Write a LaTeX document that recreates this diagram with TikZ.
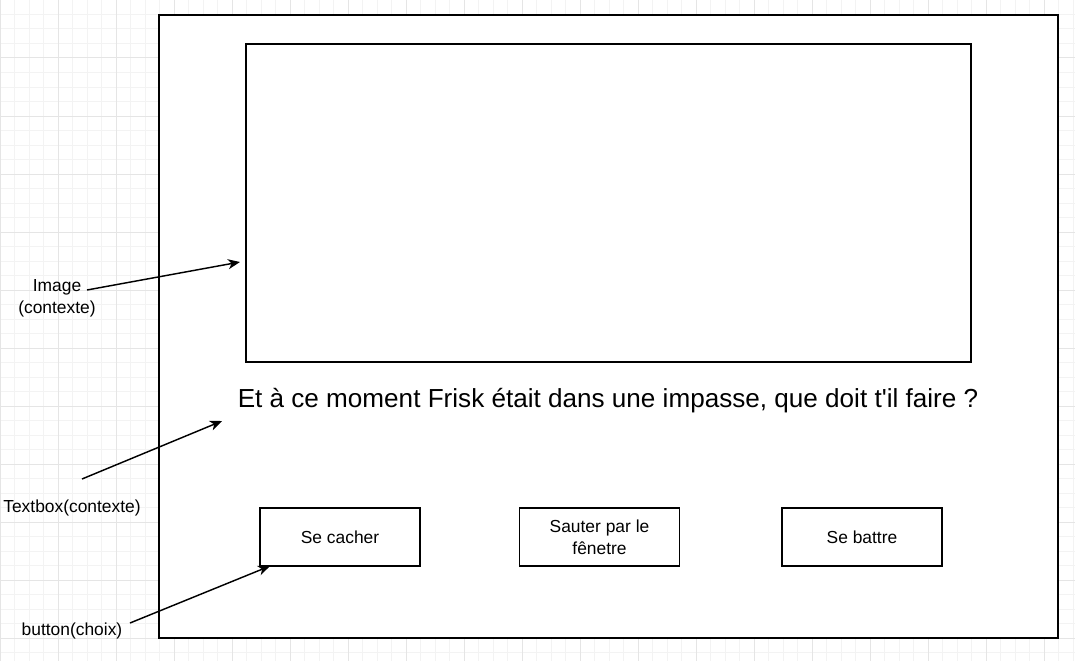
\documentclass[tikz,border=0pt]{standalone}
\usepackage{fontspec}
\setmainfont{Liberation Sans}
\usetikzlibrary{arrows.meta}
\definecolor{gridminor}{HTML}{F3F3F3}
\definecolor{gridmajor}{HTML}{E5E5E5}
\tikzset{
  boxstyle/.style={draw=black, line width=1.45pt, fill=white},
  btn/.style={draw=black, line width=1.45pt, fill=white, minimum width=160pt, minimum height=58pt, inner sep=0pt, align=center, font=\fontsize{17.4pt}{22pt}\selectfont},
  lbl/.style={align=center, inner sep=0pt, font=\fontsize{17.4pt}{22pt}\selectfont},
  arr/.style={line width=1.45pt, -{Stealth[length=12pt,width=10pt,inset=3.5pt]}},
}
\begin{document}
\begin{tikzpicture}[x=1pt,y=-1pt]
\useasboundingbox (0,0) rectangle (1075,661);
\fill[white] (0,0) rectangle (1075,661);
% grid
\foreach \i in {0,...,74} {
  \draw[gridminor, line width=1pt] (\i*14.5,0) -- (\i*14.5,661);
}
\foreach \j in {0,...,46} {
  \draw[gridminor, line width=1pt] (0,\j*14.5) -- (1075,\j*14.5);
}
\foreach \i in {0,...,18} {
  \draw[gridmajor, line width=1pt] (\i*58,0) -- (\i*58,661);
}
\foreach \j in {0,...,11} {
  \draw[gridmajor, line width=1pt] (0,\j*58) -- (1075,\j*58);
}
% frames
\node[boxstyle, minimum width=899pt, minimum height=623pt, inner sep=0pt] (outer) at (608.5,326.5) {};
\node[boxstyle, minimum width=725pt, minimum height=318pt, inner sep=0pt] (img) at (608.5,203) {};
\node[inner sep=0pt, font=\fontsize{26.1pt}{30pt}\selectfont] (txt) at (608,401) {Et à ce moment Frisk était dans une impasse, que doit t\textquotesingle il faire ?};
% buttons
\node[btn] (b1) at (340,537) {Se cacher};
\node[btn] (b2) at (599.5,537) {Sauter par le\\fênetre};
\node[btn] (b3) at (862,537) {Se battre};
% labels
\node[lbl] (l1) at (57,298) {Image\\(contexte)};
\node[lbl] (l2) at (72,508) {Textbox(contexte)};
\node[lbl] (l3) at (72,631) {button(choix)};
% arrows
\coordinate (a1s) at (87,290);
\coordinate (a1e) at (240,262);
\coordinate (a2s) at (82,479);
\coordinate (a2e) at (222,421);
\coordinate (a3s) at (130,623);
\coordinate (a3e) at (270,566);
\draw[arr] (a1s) -- (a1e);
\draw[arr] (a2s) -- (a2e);
\draw[arr] (a3s) -- (a3e);
\end{tikzpicture}
\end{document}
